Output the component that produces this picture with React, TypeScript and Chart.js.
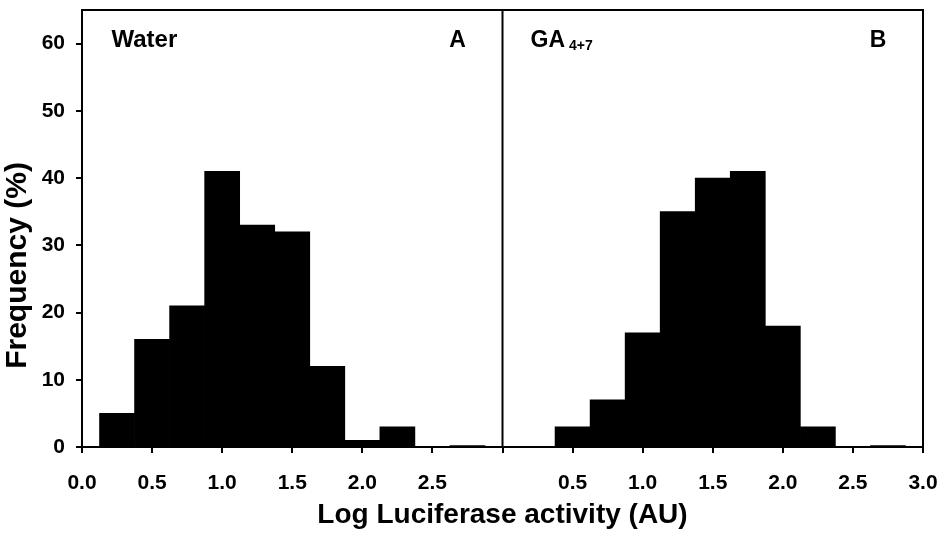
import React, { useEffect, useRef } from 'react';
import { Chart, registerables } from 'chart.js';

Chart.register(...registerables);

// Panel A (Water): bin centres (Log luciferase activity) and frequency (%)
const waterBins = [0.25, 0.5, 0.75, 1.0, 1.25, 1.5, 1.75, 2.0, 2.25, 2.5, 2.75];
const waterFreq = [5, 16, 21, 41, 33, 32, 12, 1, 3, 0, 0.2];

// Panel B (GA 4+7): bin centres and frequency (%)
const gaBins = [0.5, 0.75, 1.0, 1.25, 1.5, 1.75, 2.0, 2.25, 2.5, 2.75];
const gaFreq = [3, 7, 17, 35, 40, 41, 18, 3, 0, 0.2];

// Panel B is placed to the right of panel A on a shared axis
const panelWidth = 3;

// Tick labels
const xTickLabelsA = ['0.0', '0.5', '1.0', '1.5', '2.0', '2.5'];
const xTickLabelsB = ['', '0.5', '1.0', '1.5', '2.0', '2.5', '3.0'];
const xTickLabels = [...xTickLabelsA, ...xTickLabelsB];
const yTickLabels = ['0', '10', '20', '30', '40', '50', '60'];

const xTitle = 'Log Luciferase activity (AU)';
const yTitle = 'Frequency (%)';

const FONT = '"Liberation Sans", Arial, Helvetica, sans-serif';

const framePlugin = {
  id: 'frame',
  afterDatasetsDraw(chart: any) {
    const { ctx, chartArea, scales } = chart;
    const x = scales.x;
    const y = scales.y;
    ctx.save();
    ctx.strokeStyle = '#000';
    ctx.lineWidth = 2;
    ctx.beginPath();
    ctx.moveTo(chartArea.left, chartArea.top);
    ctx.lineTo(chartArea.right, chartArea.top);
    ctx.lineTo(chartArea.right, chartArea.bottom);
    const xd = x.getPixelForValue(panelWidth);
    ctx.moveTo(xd, chartArea.top);
    ctx.lineTo(xd, chartArea.bottom);
    ctx.stroke();

    ctx.fillStyle = '#000';
    ctx.textBaseline = 'alphabetic';
    const by = y.getPixelForValue(59.5);
    ctx.font = `bold 24px ${FONT}`;
    ctx.textAlign = 'left';
    ctx.fillText('Water', x.getPixelForValue(0.21), by);
    ctx.font = `bold 23px ${FONT}`;
    ctx.textAlign = 'center';
    ctx.fillText('A', x.getPixelForValue(2.68), by);
    ctx.fillText('B', x.getPixelForValue(panelWidth + 2.68), by);
    ctx.textAlign = 'left';
    const gx = x.getPixelForValue(panelWidth + 0.2);
    ctx.fillText('GA', gx, by);
    const gw = ctx.measureText('GA').width;
    ctx.font = `bold 14px ${FONT}`;
    ctx.fillText('4+7', gx + gw + 4, by + 3);

    // y-axis title
    ctx.save();
    ctx.translate(18, y.getPixelForValue(27));
    ctx.rotate(-Math.PI / 2);
    ctx.font = `bold 30px ${FONT}`;
    ctx.textAlign = 'center';
    ctx.textBaseline = 'middle';
    ctx.fillText(yTitle, 0, 0);
    ctx.restore();
    ctx.restore();
  },
};

export default function App() {
  const ref = useRef<HTMLCanvasElement>(null);

  useEffect(() => {
    document.body.style.margin = '0';
    const canvas = ref.current;
    if (!canvas) return;
    const chart = new Chart(canvas, {
      type: 'bar',
      data: {
        datasets: [
          {
            label: 'Water',
            data: waterBins.map((b, i) => ({ x: b, y: waterFreq[i] })),
            backgroundColor: '#000',
            borderWidth: 0,
            barPercentage: 1,
            categoryPercentage: 1,
            grouped: false,
          },
          {
            label: 'GA 4+7',
            data: gaBins.map((b, i) => ({ x: b + panelWidth, y: gaFreq[i] })),
            backgroundColor: '#000',
            borderWidth: 0,
            barPercentage: 1,
            categoryPercentage: 1,
            grouped: false,
          },
        ] as any,
      },
      options: {
        animation: false,
        responsive: false,
        devicePixelRatio: 1,
        layout: { padding: { top: 10, right: 23, left: 0, bottom: 0 } },
        plugins: {
          legend: { display: false },
          tooltip: { enabled: false },
        },
        scales: {
          x: {
            type: 'linear',
            min: 0,
            max: panelWidth * 2,
            offset: false,
            afterFit: (s: any) => {
              s.height = 91;
              s.paddingLeft = 0;
              s.paddingRight = 0;
            },
            grid: {
              offset: false,
              drawOnChartArea: false,
              drawTicks: true,
              tickLength: 6,
              color: '#000',
              lineWidth: 2,
            },
            border: { display: true, color: '#000', width: 2 },
            ticks: {
              stepSize: 0.5,
              autoSkip: false,
              maxRotation: 0,
              padding: 18,
              color: '#000',
              font: { family: FONT, size: 21, weight: 'bold' },
              callback: (_v: any, i: number) => xTickLabels[i] ?? '',
            },
            title: {
              display: true,
              text: xTitle,
              color: '#000',
              font: { family: FONT, size: 28, weight: 'bold' },
              padding: { top: 0, bottom: 6 },
            },
          },
          y: {
            min: 0,
            max: 65,
            afterFit: (s: any) => {
              s.width = 82;
              s.paddingTop = 0;
              s.paddingBottom = 0;
            },
            grid: {
              offset: false,
              drawOnChartArea: false,
              drawTicks: true,
              tickLength: 6,
              color: '#000',
              lineWidth: 2,
            },
            border: { display: true, color: '#000', width: 2 },
            ticks: {
              stepSize: 10,
              includeBounds: false,
              padding: 11,
              color: '#000',
              font: { family: FONT, size: 21, weight: 'bold' },
              callback: (_v: any, i: number) => yTickLabels[i] ?? '',
            },
            title: { display: false },
          },
        },
      } as any,
      plugins: [framePlugin],
    });
    return () => chart.destroy();
  }, []);

  return (
    <div style={{ width: 946, height: 538 }}>
      <canvas ref={ref} width={946} height={538} style={{ display: 'block' }} />
    </div>
  );
}
